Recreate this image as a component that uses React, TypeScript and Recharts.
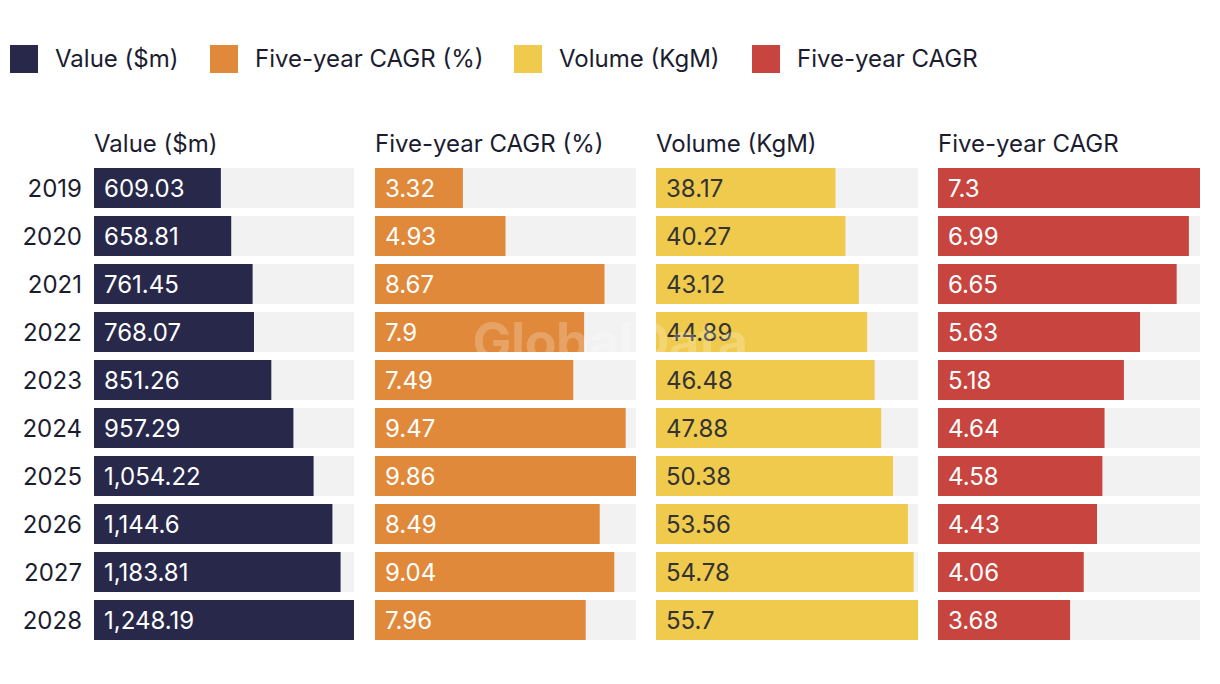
import React from "react";
import { BarChart, Bar, XAxis, YAxis, LabelList } from "recharts";

const years = ["2019", "2020", "2021", "2022", "2023", "2024", "2025", "2026", "2027", "2028"];
const valueM = [609.03, 658.81, 761.45, 768.07, 851.26, 957.29, 1054.22, 1144.6, 1183.81, 1248.19];
const cagrPct = [3.32, 4.93, 8.67, 7.9, 7.49, 9.47, 9.86, 8.49, 9.04, 7.96];
const volumeKgM = [38.17, 40.27, 43.12, 44.89, 46.48, 47.88, 50.38, 53.56, 54.78, 55.7];
const cagrVol = [7.3, 6.99, 6.65, 5.63, 5.18, 4.64, 4.58, 4.43, 4.06, 3.68];

const seriesNames = ["Value ($m)", "Five-year CAGR (%)", "Volume (KgM)", "Five-year CAGR"];
const colors = ["#28284b", "#e0893a", "#f0ca4c", "#c8443e"];
const labelColors = ["#ffffff", "#ffffff", "#333333", "#ffffff"];
const seriesData = [valueM, cagrPct, volumeKgM, cagrVol];

const FONT = "Inter, 'Noto Sans', sans-serif";
const TEXT = "#1c1c30";
const FS = 24;

const fmt = (v: number) => v.toLocaleString("en-US", { maximumFractionDigits: 2 });

const panels = [
  { left: 0, plotLeft: 94, width: 260 },
  { left: 375, plotLeft: 375, width: 261 },
  { left: 656, plotLeft: 656, width: 262 },
  { left: 938, plotLeft: 938, width: 262 },
];

export default function App() {
  return (
    <div style={{ position: "absolute", left: 0, top: 0, width: 1220, height: 684, background: "#fff", fontFamily: FONT, color: TEXT, overflow: "hidden" }}>
      {seriesNames.map((n, i) => {
        const xs = [10, 210, 514, 752];
        return (
          <div key={n} style={{ position: "absolute", left: xs[i], top: 45, display: "flex", alignItems: "center", height: 28 }}>
            <div style={{ width: 28, height: 28, background: colors[i] }} />
            <span style={{ marginLeft: 17, fontSize: FS, lineHeight: "28px", whiteSpace: "nowrap" }}>{n}</span>
          </div>
        );
      })}
      {panels.map((p, i) => {
        const data = years.map((y, k) => ({ year: y, v: seriesData[i][k] }));
        const max = Math.max(...seriesData[i]);
        const yW = p.plotLeft - p.left;
        return (
          <React.Fragment key={i}>
            <div style={{ position: "absolute", left: p.plotLeft, top: 129, fontSize: FS, lineHeight: "30px", whiteSpace: "nowrap" }}>
              {seriesNames[i]}
            </div>
            <div style={{ position: "absolute", left: p.left, top: 164 }}>
              <BarChart
                width={yW + p.width}
                height={480}
                data={data}
                layout="vertical"
                margin={{ top: 0, right: 0, bottom: 0, left: 0 }}
                barCategoryGap={4}
              >
                <XAxis type="number" hide domain={[0, max]} />
                <YAxis
                  type="category"
                  dataKey="year"
                  hide={i !== 0}
                  width={yW || 0}
                  axisLine={false}
                  tickLine={false}
                  tickMargin={6}
                  tick={{ fill: TEXT, fontSize: FS, fontFamily: FONT }}
                />
                <Bar dataKey="v" fill={colors[i]} background={{ fill: "#f2f2f2" }} isAnimationActive={false}>
                  <LabelList
                    dataKey="v"
                    position="insideLeft"
                    offset={10}
                    formatter={(v: any) => fmt(Number(v))}
                    style={{ fill: labelColors[i], fontSize: FS, fontFamily: FONT }}
                  />
                </Bar>
              </BarChart>
            </div>
          </React.Fragment>
        );
      })}
      <div style={{ position: "absolute", left: 0, width: 1220, top: 310, textAlign: "center", fontSize: 52, fontWeight: 700, color: "rgba(255,255,255,0.22)", pointerEvents: "none", letterSpacing: -0.5 }}>
        GlobalData
      </div>
    </div>
  );
}
